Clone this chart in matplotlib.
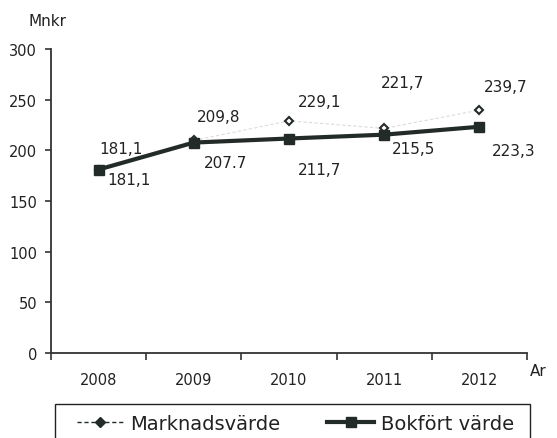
import matplotlib
matplotlib.use("Agg")
import matplotlib.pyplot as plt
from matplotlib.lines import Line2D
from matplotlib.patches import Rectangle
from matplotlib.ticker import FixedLocator

years = ["2008", "2009", "2010", "2011", "2012"]
marknadsvarde = [181.1, 209.8, 229.1, 221.7, 239.7]
bokfort = [181.1, 207.7, 211.7, 215.5, 223.3]
mark_labels = ["181,1", "209,8", "229,1", "221,7", "239,7"]
book_labels = ["181,1", "207.7", "211,7", "215,5", "223,3"]

# label offsets (points)
mark_off = [(16, 15), (18, 17), (22, 14), (13, 33), (19, 17)]
book_off = [(22, -7), (23, -14), (22, -22), (21, -10), (25, -17)]

dark = "#222b28"
txt = "#222222"

fig = plt.figure(figsize=(5.57, 4.39), dpi=100)
ax = fig.add_axes([0.0916, 0.1936, 0.8544, 0.6924])

x = list(range(len(years)))
ax.plot(x, marknadsvarde, color="#dcdcdc", lw=0.8, ls=(0, (3, 2)), zorder=1)
ax.plot(x, marknadsvarde, ls="none", marker="D", ms=4.5, mfc="white",
        mec=dark, mew=1.5, zorder=2)
ax.plot(x, bokfort, color=dark, lw=3, marker="s", ms=7.5, zorder=3)

for i in x:
    ax.annotate(mark_labels[i], (i, marknadsvarde[i]), xytext=mark_off[i],
                textcoords="offset points", ha="center", va="center",
                fontsize=11, color=txt)
    ax.annotate(book_labels[i], (i, bokfort[i]), xytext=book_off[i],
                textcoords="offset points", ha="center", va="center",
                fontsize=11, color=txt)

ax.set_xlim(-0.5, len(years) - 0.5)
ax.set_ylim(0, 300)
ax.set_yticks([0, 50, 100, 150, 200, 250, 300])
ax.set_xticks(x)
ax.set_xticklabels(years)
ax.xaxis.set_minor_locator(FixedLocator([i - 0.5 for i in range(len(years) + 1)]))
ax.tick_params(axis="x", which="major", length=0, pad=14, labelsize=10.5, labelcolor=txt)
ax.tick_params(axis="x", which="minor", length=5, width=1.2, color="#333333", direction="out")
ax.tick_params(axis="y", length=4, width=1.2, color="#333333", labelsize=10.5,
               labelcolor=txt, pad=6)
for s in ["top", "right"]:
    ax.spines[s].set_visible(False)
for s in ["left", "bottom"]:
    ax.spines[s].set_color("#333333")
    ax.spines[s].set_linewidth(1.3)

fig.text(48 / 557, 1 - 22 / 439, "Mnkr", ha="center", va="center", fontsize=11, color=txt)
fig.text(530 / 557, 1 - 372 / 439, "Ar", ha="left", va="center", fontsize=11, color=txt)

# legend box (runs off the bottom edge like the scan)
fig.patches.append(Rectangle((55 / 557, -0.05), 475 / 557, 0.05 + 1 - 405 / 439,
                             transform=fig.transFigure, fill=False,
                             edgecolor="#222222", linewidth=1.0))
handles = [
    Line2D([], [], color=dark, lw=1, ls=(0, (3, 2)), marker="D", ms=5, mfc=dark, mec=dark),
    Line2D([], [], color=dark, lw=3, marker="s", ms=7),
]
leg = fig.legend(handles, ["Marknadsvärde", "Bokfört värde"], loc="upper left",
                 bbox_to_anchor=(77 / 557, 0, 437 / 557, 1 - 415 / 439),
                 mode="expand", ncol=2, fontsize=14, frameon=False,
                 borderaxespad=0, borderpad=0, handlelength=2.4, handletextpad=0.35)
for t in leg.get_texts():
    t.set_color(txt)

fig.savefig("out.png", dpi=100)
